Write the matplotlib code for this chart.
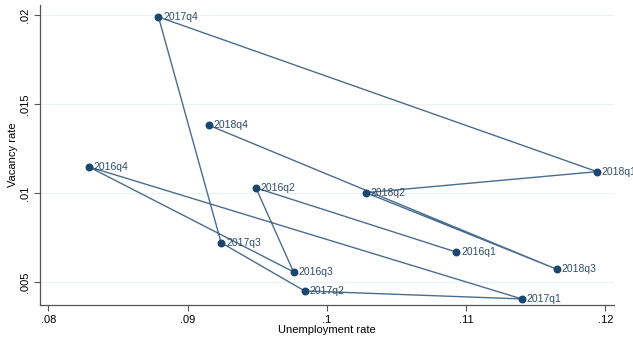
import numpy as np
import matplotlib.pyplot as plt

plt.rcParams['font.family'] = ['Liberation Sans', 'DejaVu Sans']

quarters = ['2016q1', '2016q2', '2016q3', '2016q4',
            '2017q1', '2017q2', '2017q3', '2017q4',
            '2018q1', '2018q2', '2018q3', '2018q4']
unemployment = [0.1093, 0.0949, 0.0976, 0.0829,
                0.1140, 0.0984, 0.0924, 0.0879,
                0.1194, 0.1028, 0.1165, 0.0915]
vacancy = [0.00669, 0.01030, 0.00558, 0.01148,
           0.00406, 0.00451, 0.00722, 0.01990,
           0.01121, 0.01003, 0.00573, 0.01382]

xticks = [0.08, 0.09, 0.10, 0.11, 0.12]
xticklabels = ['.08', '.09', '.1', '.11', '.12']
yticks = [0.005, 0.010, 0.015, 0.020]
yticklabels = ['.005', '.01', '.015', '.02']

navy = '#1a476f'

fig = plt.figure(figsize=(6.33, 3.38), dpi=100)
ax = fig.add_axes([40 / 633, 33 / 338, 574 / 633, 300 / 338])

# quarters joined in time order, each point tagged with its quarter
ax.plot(unemployment, vacancy, color='#4a6d8f', lw=1.0, zorder=2)
ax.scatter(unemployment, vacancy, s=22, color=navy, zorder=3)

for q, u, v in zip(quarters, unemployment, vacancy):
    ax.annotate(q, (u, v), xytext=(3.5, 0), textcoords='offset points',
                va='center', ha='left', fontsize=7.5, color='#2f4e6b',
                annotation_clip=False)

ax.set_xlim(0.07939, 0.12062)
ax.set_ylim(0.00372, 0.02057)

ax.set_xticks(xticks)
ax.set_xticklabels(xticklabels)
ax.set_yticks(yticks)
ax.set_yticklabels(yticklabels, rotation=90, va='center')
ax.tick_params(axis='both', labelsize=8, length=4, width=0.8,
               color='#555555', pad=3)

ax.grid(axis='y', color='#eaf2f3', lw=0.8)
ax.set_axisbelow(True)
for side in ['top', 'right']:
    ax.spines[side].set_visible(False)
for side in ['left', 'bottom']:
    ax.spines[side].set_color('#555555')
    ax.spines[side].set_linewidth(0.9)

ax.set_xlabel('Unemployment rate', fontsize=8, labelpad=0)
ax.set_ylabel('Vacancy rate', fontsize=8, labelpad=2)

fig.savefig('out.png', dpi=100)
